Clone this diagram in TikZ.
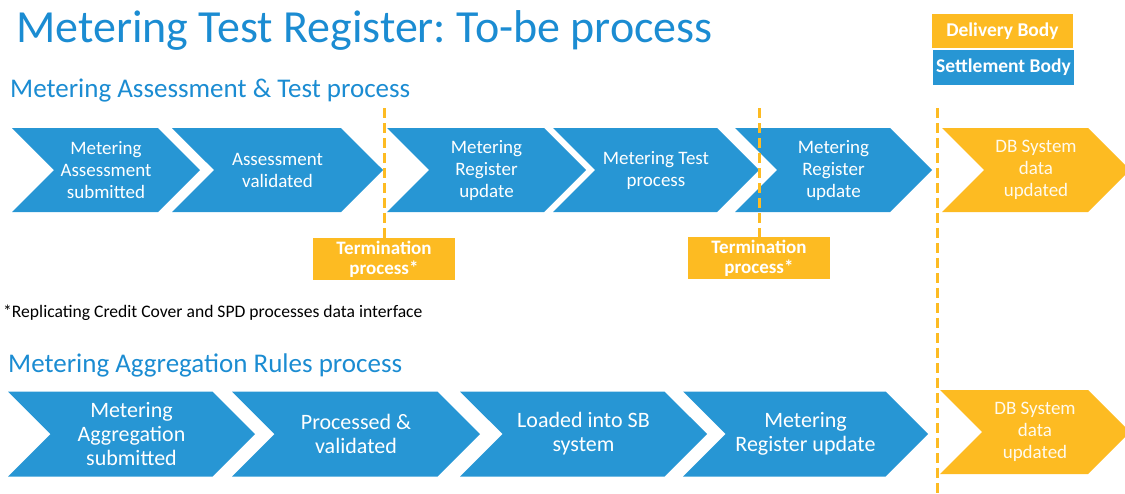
\documentclass[tikz,border=0pt]{standalone}
\usepackage{fontspec}
\setmainfont{Carlito}
\usetikzlibrary{shapes.symbols}
\definecolor{sbblue}{HTML}{2796D4}
\definecolor{dbgold}{HTML}{FDBB22}
\definecolor{titleblue}{HTML}{1B8CD2}
\newcommand{\chevfont}{\fontsize{19}{22}\selectfont}
\newcommand{\rulefont}{\fontsize{22}{24}\selectfont}
\frenchspacing
\tikzset{
  chev/.style={signal, signal to=east, signal from=west, signal pointer angle=90,
    inner sep=0pt, minimum height=84pt, text=white, align=center},
  sbchev/.style={chev, fill=sbblue},
  dbchev/.style={chev, fill=dbgold, text=white!92!dbgold},
  dbbox/.style={fill=dbgold, text=white, inner sep=0pt, align=center,
    font=\bfseries\fontsize{19}{20}\selectfont},
  dbline/.style={dbgold, line width=3pt, dash pattern=on 10pt off 5pt},
  heading/.style={anchor=base west, inner sep=0pt, text=titleblue}
}

\begin{document}
\begin{tikzpicture}[x=1pt,y=-1pt]
\clip (0,0) rectangle (1125,493);
\node[heading, font=\fontsize{46}{50}\selectfont] (title) at (16,42) {Metering Test Register: To-be process};
\node[heading, font=\fontsize{27}{30}\selectfont] (mat) at (10,97) {Metering Assessment \& Test process};
\node[heading, font=\fontsize{27}{30}\selectfont] (mar) at (8,372) {Metering Aggregation Rules process};
\node[anchor=base west, inner sep=0pt, font=\fontsize{17.6}{20}\selectfont] (note) at (3,317) {*Replicating Credit Cover and SPD processes data interface};

\node[dbbox, minimum width=141pt, minimum height=34pt, font=\bfseries\fontsize{19.5}{20}\selectfont] (db) at (1002.5,31) {Delivery Body};
\node[dbbox, fill=sbblue, minimum width=141pt, minimum height=35pt, font=\bfseries\fontsize{19.5}{20}\selectfont] (sb) at (1003.5,67.5) {Settlement Body};

\node[sbchev, minimum width=188pt, font=\chevfont] (a1) at (106,170) {Metering\\Assessment\\submitted};
\node[sbchev, minimum width=211pt, font=\chevfont] (a2) at (277.5,170) {Assessment\\validated};
\node[sbchev, minimum width=199pt, font=\chevfont] (a3) at (486.5,170) {Metering\\Register\\update};
\node[sbchev, minimum width=206pt, font=\chevfont] (a4) at (656,170) {Metering Test\\process};
\node[sbchev, minimum width=197pt, font=\chevfont] (a5) at (833.5,170) {Metering\\Register\\update};
\node[dbchev, minimum width=188pt, font=\chevfont] (a6) at (1036,170) {DB System\\data\\updated};

\node[dbbox, minimum width=142pt, minimum height=42pt] (term1) at (384,259) {Termination\\process*};
\node[dbbox, minimum width=142pt, minimum height=42pt] (term2) at (759,258) {Termination\\process*};

\coordinate (cut1) at (384,108);
\coordinate (cut2) at (759,108);
\coordinate (cut3) at (937,108);
\coordinate (cut3end) at (937,493);
\draw[dbline] (cut1) -- (term1.north);
\draw[dbline] (cut2) -- (term2.north);
\draw[dbline] (cut3) -- (cut3end);

\node[sbchev, minimum width=247pt, minimum height=85pt, font=\rulefont] (r1) at (131.5,434) {Metering\\Aggregation\\submitted};
\node[sbchev, minimum width=248pt, minimum height=85pt, font=\rulefont] (r2) at (356,434) {Processed \&\\validated};
\node[sbchev, minimum width=247pt, minimum height=85pt, font=\rulefont] (r3) at (583.5,434) {Loaded into SB\\system};
\node[sbchev, minimum width=245pt, minimum height=85pt, font=\rulefont] (r4) at (805.5,434) {Metering\\Register update};
\node[dbchev, minimum width=190pt, minimum height=84pt, font=\chevfont] (r5) at (1035,432) {DB System\\data\\updated};
\end{tikzpicture}
\end{document}
